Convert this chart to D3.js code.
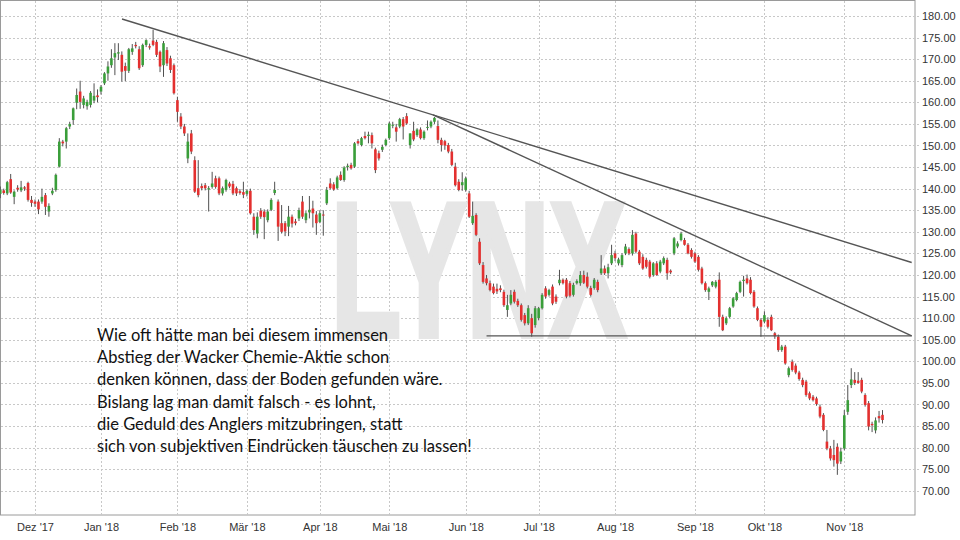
<!DOCTYPE html>
<html><head><meta charset="utf-8">
<script src="https://cdn.jsdelivr.net/npm/d3@7"></script>
<style>
body{margin:0;background:#fff;}
svg{display:block;}
.axis text{font-family:"Liberation Sans Narrow","Liberation Sans",Arial,sans-serif;font-size:11px;fill:#333;}
</style></head>
<body>
<svg id="chart" width="960" height="540"></svg>
<script>
// ---- DATA: daily candles [open, high, low, close] per month ----
const nov17 = [[138.8,140.5,137.8,139.7],[139.6,140.0,138.6,139.0],[138.9,141.8,138.5,141.5],[142.2,143.4,138.8,139.1],[138.1,139.6,136.4,139.3],[140.2,140.8,139.3,139.8],[139.6,141.8,139.2,140.3],[140.3,140.6,139.5,140.0],[141.3,141.6,137.0,137.4],[137.4,138.3,135.8,136.7]];
const dec17 = [[137.0,137.5,135.8,136.5],[137.0,137.5,134.1,135.2],[137.0,140.0,136.5,138.1],[138.5,139.0,133.9,135.8],[134.7,136.6,133.5,136.0],[138.9,140.2,138.5,139.5],[139.7,143.5,139.3,143.2],[145.1,151.7,144.9,150.9],[150.9,151.3,149.8,150.5],[150.9,154.3,149.3,154.0],[154.4,155.5,153.8,155.0],[155.9,158.8,154.8,158.6],[159.9,163.2,158.4,161.7],[162.5,165.0,158.5,160.1],[159.4,161.5,158.6,160.9],[159.1,160.6,158.3,160.1],[159.4,162.6,158.8,162.2],[160.4,164.4,159.8,161.5],[161.6,163.0,160.0,161.2]];
const jan18 = [[162.5,164.0,161.8,163.6],[164.4,167.0,164.0,166.7],[166.7,169.5,165.0,168.3],[168.6,172.3,168.0,170.2],[170.4,173.7,166.3,171.4],[171.3,173.7,169.8,171.6],[171.0,171.8,164.8,167.1],[168.4,169.2,164.9,167.3],[167.3,172.6,166.8,172.3],[171.7,173.5,171.0,172.5],[173.3,174.0,172.5,173.0],[172.3,173.0,167.5,167.9],[168.6,173.6,168.2,173.3],[173.3,174.6,172.8,174.4],[173.0,173.6,172.2,172.7],[174.3,176.8,173.0,173.3],[174.0,174.5,170.5,171.0],[171.7,172.0,167.0,168.3],[168.6,174.2,165.9,173.7],[172.1,172.8,168.4,169.0],[170.2,170.8,166.8,167.5],[168.6,169.0,161.8,162.1]];
const feb18 = [[160.5,161.3,155.5,157.8],[156.7,157.5,153.8,154.4],[154.4,155.0,152.2,152.8],[147.0,152.8,145.9,150.9],[152.8,153.6,148.0,148.6],[146.6,147.5,139.0,139.3],[140.1,146.6,138.0,138.5],[140.6,141.2,139.6,140.1],[140.8,141.3,139.6,140.1],[139.8,140.6,134.7,140.1],[140.4,143.9,140.0,141.2],[142.4,143.0,140.0,140.4],[142.4,142.8,138.5,138.9],[138.9,140.5,138.4,140.1],[139.7,142.3,139.3,142.0],[141.2,141.6,140.1,140.5],[141.1,141.8,138.5,138.9],[140.1,140.5,138.3,138.9],[139.4,139.9,138.6,139.0],[139.2,141.6,137.8,138.6]];
const mar18 = [[138.8,139.8,138.2,139.5],[139.5,140.0,134.0,134.3],[133.5,134.3,129.3,130.4],[129.6,134.5,128.5,133.5],[134.9,135.5,133.0,133.5],[134.7,135.2,128.3,133.4],[132.7,135.2,132.2,134.7],[135.1,137.8,134.8,137.4],[139.0,141.6,138.5,139.7],[137.0,137.5,127.9,131.2],[132.0,136.2,129.6,130.0],[132.0,132.5,129.0,130.1],[131.2,136.0,129.0,133.5],[133.5,134.0,131.0,131.9],[132.4,133.0,131.5,132.0],[133.1,135.6,132.5,135.0],[137.0,138.3,133.0,133.5],[132.7,134.8,132.0,134.3],[134.5,138.3,133.1,135.1],[135.4,137.2,131.0,134.3],[134.0,134.8,129.3,132.0]];
const apr18 = [[132.3,135.0,132.0,134.3],[134.0,135.0,129.1,133.8],[136.6,140.4,136.2,139.7],[141.2,142.4,139.8,140.1],[141.0,141.5,139.5,139.8],[140.1,143.0,139.8,142.6],[143.2,144.0,141.8,142.0],[142.0,145.2,141.6,144.9],[145.0,145.8,144.2,145.3],[145.5,146.0,144.4,144.7],[145.1,150.8,144.8,150.5],[151.0,151.5,150.2,150.5],[150.1,152.0,149.8,151.7],[152.2,153.2,151.4,151.7],[152.2,153.2,150.5,152.5],[152.4,153.0,149.3,150.5],[149.1,149.5,143.6,144.3],[148.2,148.8,146.5,147.0],[149.0,150.2,148.5,149.7],[150.1,151.6,149.8,151.3]];
const may18 = [[151.7,155.5,151.3,155.1],[154.6,155.5,154.0,154.8],[154.2,155.0,150.9,153.2],[154.4,156.4,154.0,156.1],[156.1,156.6,151.4,154.4],[156.8,157.5,154.8,155.1],[150.1,152.8,149.3,152.8],[153.4,155.5,151.0,151.4],[152.4,154.0,152.0,153.7],[153.7,154.2,151.4,151.7],[151.7,153.5,151.3,153.2],[154.2,155.8,153.5,154.3],[154.4,155.8,154.0,155.5],[155.5,156.6,155.0,156.4],[154.5,155.8,150.5,151.3],[151.3,151.8,148.6,150.1],[151.0,151.3,149.0,150.0],[150.1,150.6,148.2,148.6],[148.6,149.2,145.2,145.5],[145.1,146.0,140.5,140.8],[141.6,142.2,139.4,139.7],[140.8,143.8,139.5,141.5]];
const jun18 = [[139.7,142.8,139.3,142.4],[138.9,139.5,133.2,133.5],[132.0,137.0,131.6,133.7],[133.9,134.3,129.0,129.3],[127.7,128.5,122.3,122.7],[122.3,123.0,118.0,118.4],[119.2,120.0,117.6,118.1],[118.1,118.7,116.2,116.5],[117.3,118.0,115.5,115.8],[116.8,118.0,115.6,116.2],[116.9,117.6,116.0,116.5],[116.1,116.6,112.6,113.0],[111.9,115.4,110.3,113.0],[113.4,116.5,113.0,115.4],[116.1,116.6,113.4,113.8],[114.0,114.5,112.6,113.0],[113.0,113.4,109.2,109.6],[110.7,111.2,108.3,108.8],[108.8,113.0,108.4,112.3],[110.0,111.0,105.7,106.5],[108.4,112.8,107.8,112.3]];
const jul18 = [[110.0,112.6,109.5,112.3],[112.3,115.8,112.0,115.4],[116.9,117.4,114.5,115.0],[115.4,116.8,115.0,116.5],[117.3,117.8,113.0,113.4],[115.0,115.5,113.3,113.8],[118.1,121.2,117.6,118.9],[118.9,119.2,117.8,118.1],[118.9,119.3,114.6,115.0],[118.1,118.6,114.8,115.2],[115.4,118.2,115.0,117.7],[118.1,119.0,117.8,118.6],[118.1,120.9,117.5,120.0],[120.0,121.0,117.9,118.2],[119.6,120.6,116.9,117.3],[117.0,117.5,115.0,115.4],[117.0,119.3,116.6,118.9],[118.4,118.9,116.0,116.5],[120.4,124.6,120.0,121.5],[121.5,122.2,120.0,120.4],[120.4,122.6,119.2,121.8],[122.7,127.0,122.3,124.6]];
const aug18 = [[125.0,125.6,123.2,123.9],[122.7,124.0,122.2,123.6],[122.3,125.0,121.8,124.6],[125.0,127.2,124.6,126.6],[126.0,126.4,124.6,125.0],[125.0,130.4,124.5,129.3],[129.6,130.0,125.0,125.4],[125.4,125.8,122.3,122.7],[124.2,124.8,121.2,121.5],[123.5,124.0,121.5,121.9],[123.1,123.5,119.2,119.6],[120.0,123.0,119.6,122.7],[122.7,123.2,119.8,120.0],[120.8,123.5,120.4,123.1],[122.7,124.3,122.3,123.9],[123.5,124.0,118.9,120.4],[121.0,121.3,120.2,120.6],[125.0,128.8,124.6,128.5],[126.6,127.8,126.2,127.3],[128.1,130.0,127.8,129.6],[128.1,128.6,126.8,127.0],[127.0,127.4,124.8,125.0],[125.8,126.2,123.8,124.2]];
const sep18 = [[125.0,125.4,122.8,123.1],[124.2,124.6,120.8,121.2],[121.5,121.9,117.8,118.1],[118.1,118.5,116.1,116.5],[116.1,117.3,114.2,116.9],[117.6,118.6,117.2,118.4],[117.3,118.8,116.9,118.4],[118.9,120.6,108.0,110.3],[110.3,110.8,107.0,107.2],[108.8,110.4,108.4,110.0],[110.3,112.6,110.0,112.3],[112.7,114.9,112.4,114.6],[114.2,116.1,113.9,115.8],[116.1,118.7,115.8,118.4],[118.6,119.8,115.0,118.9],[119.2,120.1,117.8,118.1],[118.9,119.5,115.5,115.8],[116.1,116.5,112.4,112.7],[112.3,112.7,109.3,109.6],[109.6,110.0,105.7,108.0]];
const oct18 = [[109.2,111.6,108.8,110.7],[109.6,110.2,107.6,108.0],[110.3,110.8,107.0,107.2],[106.5,106.8,105.2,105.8],[105.7,106.2,102.2,102.6],[102.6,103.8,102.2,103.4],[103.4,103.8,99.2,99.5],[96.8,98.8,96.3,98.4],[99.9,100.4,97.6,98.0],[99.0,99.5,97.0,97.4],[97.4,97.8,95.5,95.9],[95.7,96.2,94.0,94.5],[95.3,95.7,91.8,92.2],[92.6,93.0,91.0,91.4],[91.8,92.2,90.7,91.0],[91.4,91.8,89.7,90.1],[89.5,90.0,86.8,87.2],[87.6,88.0,83.8,84.1],[81.4,84.1,79.4,79.8],[79.8,80.4,77.0,77.5],[78.3,81.8,75.6,77.1],[80.2,81.0,73.7,76.3],[76.8,80.0,76.2,79.1]];
const nov18 = [[79.8,88.7,79.4,87.5],[88.3,94.5,87.6,91.0],[94.5,98.4,93.8,95.8],[95.7,97.5,94.5,95.0],[95.5,97.5,94.8,95.0],[95.7,96.2,92.6,93.0],[92.2,92.6,89.5,89.9],[90.3,90.8,84.0,84.9],[85.5,86.0,83.6,85.2],[84.0,87.0,83.3,86.3],[87.3,88.5,85.8,86.8],[87.6,88.7,85.6,86.4]];

const monthSeries = [nov17, dec17, jan18, feb18, mar18, apr18, may18, jun18, jul18, aug18, sep18, oct18, nov18];
const monthLabels = [null, "Dez '17", "Jan '18", "Feb '18", "Mär '18", "Apr '18", "Mai '18", "Jun '18", "Jul '18", "Aug '18", "Sep '18", "Okt '18", "Nov '18"];
const priceTicks = d3.range(70, 181, 5);

// trend lines: [trading-day slot, price]
const trendLines = [
  [[35.05, 179.3], [262.4, 122.9]],
  [[124.6, 157.1], [262.4, 105.9]],
  [[140.0, 105.9], [262.4, 105.9]]
];

const noteLines = [
  "Wie oft hätte man bei diesem immensen",
  "Abstieg der Wacker Chemie-Aktie schon",
  "denken können, dass der Boden gefunden wäre.",
  "Bislang lag man damit falsch - es lohnt,",
  "die Geduld des Anglers mitzubringen, statt",
  "sich von subjektiven Eindrücken täuschen zu lassen!"
];

// ---- build ----
const candles = [];
const monthStart = [];
monthSeries.forEach((m, mi) => {
  monthStart.push(candles.length);
  m.forEach(d => candles.push({i: candles.length, o: d[0], h: d[1], l: d[2], c: d[3]}));
});

const svg = d3.select("#chart");
const plotR = 915, plotB = 515;

const x = d3.scaleLinear().domain([monthStart[1], monthStart[12]]).range([35, 844.3]);
const y = d3.scaleLinear().domain([70, 180]).range([490.8, 16]);

// frame
svg.append("rect").attr("x", 0.5).attr("y", 0.5).attr("width", plotR - 0.5).attr("height", plotB - 0.5)
  .attr("fill", "#fff").attr("stroke", "#9a9a9a");

// grid
const grid = svg.append("g");
grid.selectAll(".hg").data(priceTicks).join("line")
  .attr("x1", 1).attr("x2", plotR + 4)
  .attr("y1", d => Math.round(y(d)) + 0.5).attr("y2", d => Math.round(y(d)) + 0.5)
  .attr("stroke", "#c8c8c8").attr("stroke-dasharray", "2,2");
const vIdx = monthStart.slice(1);
grid.selectAll(".vg").data(vIdx).join("line")
  .attr("x1", d => Math.round(x(d)) + 0.5).attr("x2", d => Math.round(x(d)) + 0.5)
  .attr("y1", 1).attr("y2", plotB)
  .attr("stroke", "#c8c8c8").attr("stroke-dasharray", "2,2");

// watermark
svg.append("text").attr("x", 331).attr("y", 336)
  .attr("textLength", 295).attr("lengthAdjust", "spacingAndGlyphs")
  .style("font-family", "Liberation Sans, Arial, sans-serif").style("font-weight", "bold")
  .style("font-size", "192px").attr("fill", "#e6e6e6")
  .attr("stroke", "#e6e6e6").attr("stroke-width", 6).attr("stroke-linejoin", "miter")
  .text("LYNX");

// candles
const cw = 2.6;
const cg = svg.append("g");
cg.selectAll(".wick").data(candles).join("line")
  .attr("x1", d => x(d.i)).attr("x2", d => x(d.i))
  .attr("y1", d => y(d.h)).attr("y2", d => y(d.l))
  .attr("stroke", "#505050").attr("stroke-width", 1);
cg.selectAll(".body").data(candles).join("rect")
  .attr("x", d => x(d.i) - cw / 2).attr("width", cw)
  .attr("y", d => y(Math.max(d.o, d.c)))
  .attr("height", d => Math.max(1, Math.abs(y(d.o) - y(d.c))))
  .attr("fill", d => d.c >= d.o ? "#3a9e3a" : "#e3302f");

// trend lines
svg.append("g").selectAll("line").data(trendLines).join("line")
  .attr("x1", d => x(d[0][0])).attr("y1", d => y(d[0][1]))
  .attr("x2", d => x(d[1][0])).attr("y2", d => y(d[1][1]))
  .attr("stroke", "#555").attr("stroke-width", 1.4);

// axes
const yAxis = d3.axisRight(y).tickValues(priceTicks).tickFormat(d3.format(".2f")).tickSize(0).tickPadding(7);
const ya = svg.append("g").attr("class", "axis").attr("transform", `translate(${plotR},0)`).call(yAxis);
ya.select(".domain").remove();

const xAxis = d3.axisBottom(x).tickValues(vIdx).tickFormat((d, k) => monthLabels[k + 1]).tickSize(0).tickPadding(8);
const xa = svg.append("g").attr("class", "axis").attr("transform", `translate(0,${plotB})`).call(xAxis);
xa.select(".domain").remove();

// annotation
const note = svg.append("text").attr("x", 97).attr("y", 341)
  .style("font-family", "Lato, 'Open Sans', sans-serif").style("font-size", "16.5px").attr("fill", "#111");
note.selectAll("tspan").data(noteLines).join("tspan")
  .attr("x", 97).attr("dy", (d, k) => k === 0 ? 0 : 22.2).text(d => d);
</script>
</body></html>
